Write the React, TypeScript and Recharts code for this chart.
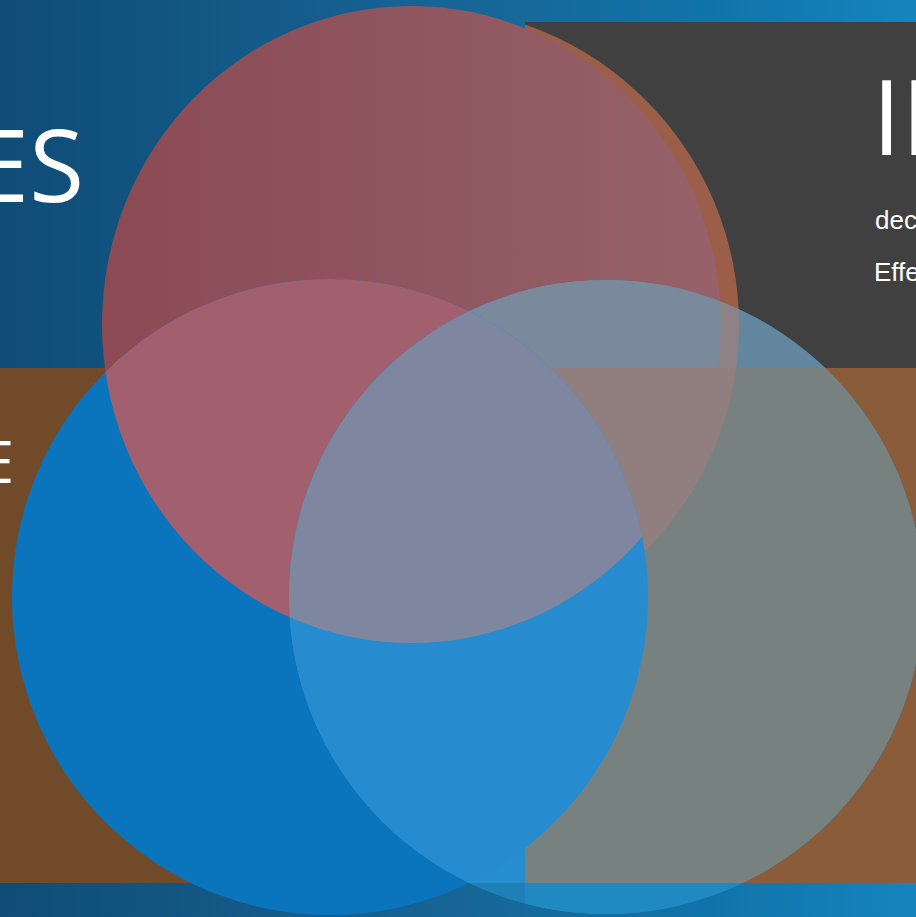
import React from "react";
import { ScatterChart, Scatter, XAxis, YAxis, ReferenceArea } from "recharts";

const W = 916;
const H = 917;

// circles of the venn (centre + radii, in picture units)
const circleNames = ["P", "O", "B1", "B2"];
const circleX = [411.5, 421, 330, 606];
const circleY = [324.5, 325, 597, 597];
const circleRX = [309.5, 318, 318, 317];
const circleRY = [318.5, 318, 318, 317];

// background panels
const zoneNames = ["bg", "gray", "brownL", "brownR", "bandL", "bandR", "cardR", "leftZ"];
const zoneX1 = [0, 525, 0, 525, 0, 525, 525, 0];
const zoneX2 = [916, 916, 525, 916, 525, 916, 916, 525];
const zoneY1 = [0, 22, 368, 368, 883, 883, 22, 0];
const zoneY2 = [917, 368, 883, 883, 917, 917, 883, 917];
const zoneFill = ["url(#bgGrad)", "#404040", "#714a2a", "#8a5c3a", "none", "none", "none", "none"];

// drawn regions, bottom to top: base circle + clips
const pieceBase = ["O", "P", "B1", "P", "B2", "B2", "B2", "B2", "B2", "B2", "B2", "B2", "B2", "B2", "B2"];
const pieceClips = [
  ["z-cardR"],
  [],
  [],
  ["c-B1"],
  [],
  ["z-gray"],
  ["z-brownR"],
  ["z-bandL"],
  ["z-bandR"],
  ["c-O", "z-brownR"],
  ["c-O", "z-gray"],
  ["c-P", "z-gray"],
  ["c-P", "z-leftZ"],
  ["c-B1"],
  ["c-B1", "c-P"],
];
const pieceFill = [
  "#9b5e48", "url(#pGrad)", "#0a75bd", "#a2606f", "#268dcf", "#63879e", "#778280",
  "#1f80b8", "#2189c2", "#917f80", "#8f8287", "#7b899c", "#7b899c", "#268ccf", "#7e879f",
];

const labels = ["ES", "E", "IN", "decision", "Effective"];
const labelX = [84, 14, 872, 875, 874];
const labelY = [202, 483, 155, 229, 281];
const labelSize = [100, 58, 105, 26, 26];
const labelFont = ["Open Sans", "Open Sans", "Open Sans", "Liberation Sans", "Liberation Sans"];
const labelAnchor = ["end", "end", "start", "start", "start"];

const K = 1; // px per unit (plot is 916 x 917 with domain 0..916 / 0..917)

const circles = circleNames.map((n, i) => ({ name: n, x: circleX[i], y: circleY[i], rx: circleRX[i], ry: circleRY[i] }));
const byName: Record<string, any> = {};
circles.forEach((c) => (byName[c.name] = c));
const texts = labels.map((t, i) => ({ t, x: labelX[i], y: labelY[i], i }));

function zoneShape(i: number) {
  return (p: any) => {
    const { x, y, width, height } = p;
    return (
      <g>
        <defs>
          {i === 0 && (
            <linearGradient id="bgGrad" x1="0" y1="0" x2="1" y2="0">
              <stop offset="0" stopColor="#0f4c76" />
              <stop offset="0.5" stopColor="#176596" />
              <stop offset="0.78" stopColor="#1074a9" />
              <stop offset="1" stopColor="#1684bf" />
            </linearGradient>
          )}
          <clipPath id={`z-${zoneNames[i]}`}>
            <rect x={x} y={y} width={width} height={height} />
          </clipPath>
        </defs>
        {zoneFill[i] !== "none" && <rect x={x} y={y} width={width} height={height} fill={zoneFill[i]} />}
      </g>
    );
  };
}

const clipDefShape = (p: any) => {
  const c = p.payload;
  return (
    <defs>
      <clipPath id={`c-${c.name}`}>
        <ellipse cx={p.cx} cy={p.cy} rx={c.rx * K} ry={c.ry * K} />
      </clipPath>
      {c.name === "P" && (
        <linearGradient id="pGrad" x1="0" y1="0" x2="1" y2="0">
          <stop offset="0" stopColor="#8b4a54" />
          <stop offset="0.5" stopColor="#8f5660" />
          <stop offset="1" stopColor="#976269" />
        </linearGradient>
      )}
    </defs>
  );
};

function pieceShape(i: number) {
  return (p: any) => {
    const c = p.payload;
    let el: React.ReactNode = <ellipse cx={p.cx} cy={p.cy} rx={c.rx * K} ry={c.ry * K} fill={pieceFill[i]} />;
    pieceClips[i].forEach((id) => {
      el = <g clipPath={`url(#${id})`}>{el}</g>;
    });
    return <g>{el}</g>;
  };
}

const textShape = (p: any) => {
  const d = p.payload;
  return (
    <text
      x={p.cx}
      y={p.cy}
      fill="#ffffff"
      fontSize={labelSize[d.i]}
      fontFamily={labelFont[d.i]}
      textAnchor={labelAnchor[d.i] as any}
    >
      {d.t}
    </text>
  );
};

export default function App() {
  return (
    <div style={{ position: "absolute", left: 0, top: 0, width: W, height: H, overflow: "hidden" }}>
      <ScatterChart width={W} height={H} margin={{ top: 0, right: 0, bottom: 0, left: 0 }}>
        <XAxis type="number" dataKey="x" domain={[0, 916]} hide allowDataOverflow />
        <YAxis type="number" dataKey="y" domain={[0, 917]} reversed hide allowDataOverflow width={0} />
        {zoneNames.map((n, i) => (
          <ReferenceArea
            key={n}
            x1={zoneX1[i]}
            x2={zoneX2[i]}
            y1={zoneY1[i]}
            y2={zoneY2[i]}
            fillOpacity={1}
            stroke="none"
            ifOverflow="visible"
            zIndex={1 + i}
            shape={zoneShape(i)}
          />
        ))}
        <Scatter data={circles} shape={clipDefShape} isAnimationActive={false} zIndex={20} />
        {pieceBase.map((b, i) => (
          <Scatter key={i} data={[byName[b]]} shape={pieceShape(i)} isAnimationActive={false} zIndex={30 + i} />
        ))}
        <Scatter data={texts} shape={textShape} isAnimationActive={false} zIndex={80} />
      </ScatterChart>
    </div>
  );
}
